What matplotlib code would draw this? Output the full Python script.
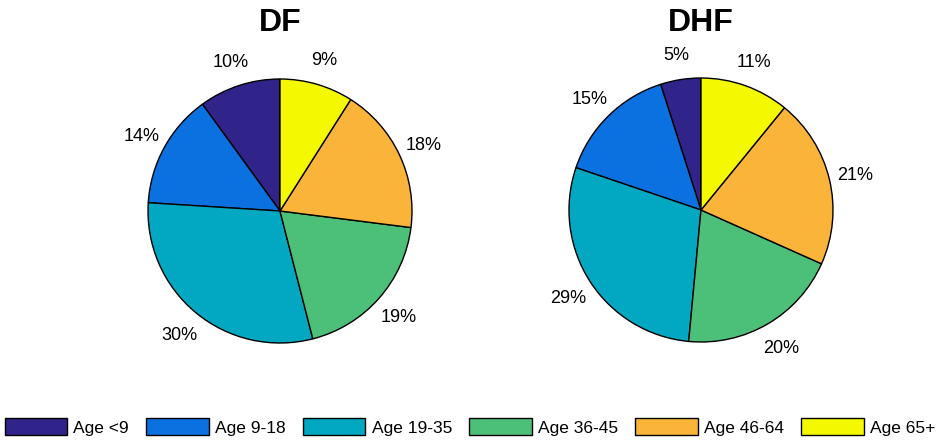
import matplotlib.pyplot as plt
from matplotlib.patches import Patch

plt.rcParams['font.family'] = ['Liberation Sans', 'DejaVu Sans']

# data
categories = ['Age <9', 'Age 9-18', 'Age 19-35', 'Age 36-45', 'Age 46-64', 'Age 65+']
df_pct = [10, 14, 30, 19, 18, 9]
dhf_pct = [5, 15, 29, 20, 21, 11]
titles = ['DF', 'DHF']
colors = ['#30248a', '#0b70e0', '#02a8c2', '#4cc079', '#fbb43a', '#f4f800']

fig = plt.figure(figsize=(9.4, 4.41), dpi=100)

# pie centres in pixels (x, y from top), radius 132 px
centres = [(280, 211), (701, 210)]
r = 132
lim = 1.4
side = 2 * lim * r

for k, vals in enumerate([df_pct, dhf_pct]):
    cx, cy = centres[k]
    ax = fig.add_axes([(cx - side / 2) / 940, (441 - cy - side / 2) / 441,
                       side / 940, side / 441])
    wedges, texts = ax.pie(vals, labels=[f'{v}%' for v in vals], colors=colors,
                           startangle=90, counterclock=True, labeldistance=1.2,
                           wedgeprops=dict(edgecolor='black', linewidth=1.0),
                           textprops=dict(fontsize=13))
    for t in texts:
        t.set_ha('center')
        t.set_va('center_baseline')
    ax.set_xlim(-lim, lim)
    ax.set_ylim(-lim, lim)
    ax.set_aspect('equal')
    fig.text(cx / 940, 1 - 23 / 441, titles[k], ha='center', va='center',
             fontsize=23, fontweight='bold')

handles = [Patch(facecolor=c, edgecolor='black', linewidth=1.0) for c in colors]
fig.legend(handles, categories, loc='center', bbox_to_anchor=(0.5, 0.032),
           ncol=6, frameon=False, fontsize=12.5, handlelength=3.6,
           handleheight=1.15, handletextpad=0.35, columnspacing=1.0)

plt.savefig('out.png', dpi=100)
